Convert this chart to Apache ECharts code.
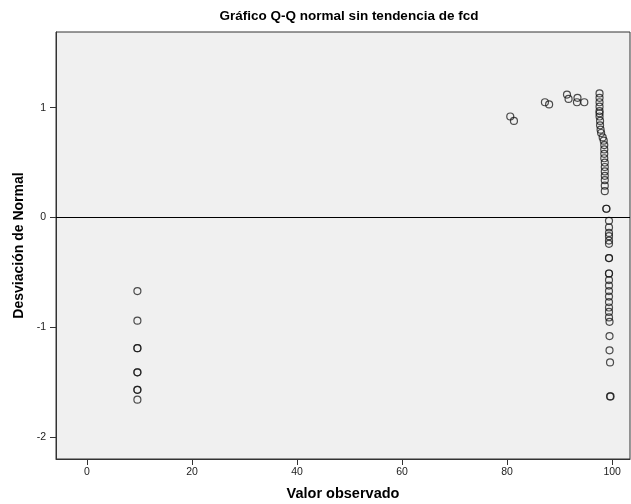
<!DOCTYPE html>
<html><head><meta charset="utf-8">
<script src="https://cdn.jsdelivr.net/npm/echarts@6/dist/echarts.min.js"></script>
<style>html,body{margin:0;padding:0;background:#fff}#c{width:631px;height:504px}</style>
</head><body><div id="c"></div>
<script>
const titleText = 'Gráfico Q-Q normal sin tendencia de fcd';
const xName = 'Valor observado';
const yName = 'Desviación de Normal';
const xTicks = [0, 20, 40, 60, 80, 100];
const yTicks = [-2, -1, 0, 1];
// observed values (x) and deviation from normal (y)
const obsValues = [
  9.6, 9.6, 9.6, 9.6, 9.6, 9.6, 9.6, 9.6, 9.6,
  80.6, 81.3, 87.2, 88.0, 91.4, 91.7, 93.4, 93.3, 94.7,
  97.6, 97.6, 97.6, 97.6, 97.6, 97.6, 97.6, 97.7, 97.7, 97.8, 97.9,
  98.2, 98.4, 98.5, 98.5, 98.5, 98.5, 98.6, 98.6, 98.6, 98.6, 98.6, 98.6, 98.6,
  98.9, 98.9,
  99.4, 99.4, 99.4, 99.4, 99.4, 99.4, 99.4, 99.4,
  99.4, 99.4, 99.4, 99.4, 99.4, 99.4, 99.4, 99.4, 99.4, 99.4,
  99.5, 99.5, 99.5, 99.6, 99.6
];
const deviations = [
  -0.67, -0.94, -1.19, -1.19, -1.41, -1.41, -1.57, -1.57, -1.66,
  0.92, 0.88, 1.05, 1.03, 1.12, 1.08, 1.09, 1.05, 1.05,
  1.13, 1.09, 1.05, 1.01, 0.97, 0.95, 0.92, 0.88, 0.84, 0.80, 0.77,
  0.73, 0.70, 0.66, 0.62, 0.58, 0.54, 0.50, 0.46, 0.42, 0.38, 0.34, 0.29, 0.24,
  0.08, 0.08,
  -0.03, -0.09, -0.14, -0.17, -0.21, -0.24, -0.37, -0.37,
  -0.51, -0.51, -0.57, -0.62, -0.67, -0.72, -0.77, -0.82, -0.86, -0.91,
  -0.95, -1.08, -1.21, -1.32, -1.63
];
const extraTies = [[99.7, -1.63]];
const points = obsValues.map((v, i) => [v, deviations[i]]).concat(extraTies);

const chart = echarts.init(document.getElementById('c'));
const fontFam = '"Liberation Sans", Arial, sans-serif';
chart.setOption({
  animation: false,
  backgroundColor: '#ffffff',
  title: {
    text: titleText, left: 344, top: 4, textAlign: 'center',
    textStyle: { fontFamily: fontFam, fontSize: 13.5, fontWeight: 'bold', color: '#000' }
  },
  grid: { left: 56, top: 32, right: 1, bottom: 45, outerBoundsMode: 'none', containLabel: false,
          show: true, backgroundColor: '#f0f0f0', borderColor: '#333', borderWidth: 1 },
  xAxis: {
    type: 'value', min: -5.9, max: 103.4,
    name: xName, nameLocation: 'middle', nameGap: 27,
    nameTextStyle: { fontFamily: fontFam, fontSize: 14.5, fontWeight: 'bold', color: '#000' },
    axisLine: { show: true, onZero: false, lineStyle: { color: '#333' } },
    axisTick: { show: true, length: 6, customValues: xTicks, lineStyle: { color: '#333' } },
    axisLabel: { customValues: xTicks, fontFamily: fontFam, fontSize: 10.5, color: '#222', margin: 8 },
    splitLine: { show: false }
  },
  yAxis: {
    type: 'value', min: -2.20, max: 1.69,
    name: yName, nameLocation: 'middle', nameGap: 29, nameRotate: 90,
    nameTextStyle: { fontFamily: fontFam, fontSize: 14, fontWeight: 'bold', color: '#000' },
    axisLine: { show: true, onZero: false, lineStyle: { color: '#333' } },
    axisTick: { show: true, length: 6, customValues: yTicks, lineStyle: { color: '#333' } },
    axisLabel: { customValues: yTicks, fontFamily: fontFam, fontSize: 10.5, color: '#222', margin: 10 },
    splitLine: { show: false }
  },
  series: [{
    type: 'scatter',
    data: points,
    symbol: 'circle',
    symbolSize: 7,
    itemStyle: { color: 'rgba(240,240,240,0)', borderColor: 'rgba(20,20,20,0.75)', borderWidth: 1.2, opacity: 1 },
    markLine: {
      silent: true, symbol: 'none', label: { show: false },
      lineStyle: { color: '#000', width: 1, type: 'solid' },
      data: [{ yAxis: 0 }]
    }
  }]
});
</script></body></html>
